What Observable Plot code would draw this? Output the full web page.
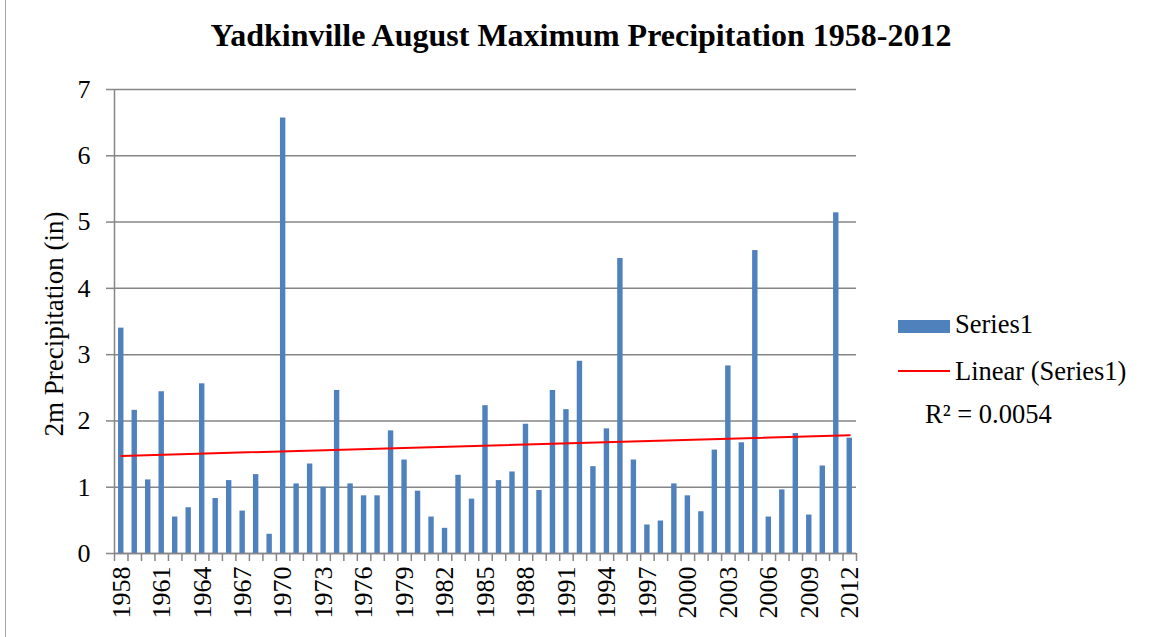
<!DOCTYPE html>
<html>
<head>
<meta charset="utf-8">
<script src="https://cdn.jsdelivr.net/npm/d3@7"></script>
<script src="https://cdn.jsdelivr.net/npm/@observablehq/plot@0.6"></script>
<style>
  html, body { margin: 0; padding: 0; background: #fff; }
  #wrap { position: relative; width: 1151px; height: 637px; overflow: hidden; font-family: "Liberation Serif", "Times New Roman", serif; color: #000; }
  #chart { position: absolute; left: 0; top: 0; }
  #chart svg, #chart svg text, #chart svg g { font-family: "Liberation Serif", "Times New Roman", serif !important; }
  .abs { position: absolute; white-space: nowrap; line-height: 1.15; }
  #border { position: absolute; left: 5px; top: -2px; width: 1200px; height: 700px; border-left: 1.5px solid #a6a6a6; }
  #title { left: 0; width: 1162px; text-align: center; top: 17px; font-size: 32px; font-weight: bold; }
  #ylabel { left: 55px; top: 324px; font-size: 27px; transform: translate(-50%, -50%) rotate(-90deg); }
  .leg { font-size: 26.5px; }
</style>
</head>
<body>
<div id="wrap">
  <div id="border"></div>
  <div id="chart"></div>
  <div id="title" class="abs">Yadkinville August Maximum Precipitation 1958-2012</div>
  <div id="ylabel" class="abs">2m Precipitation (in)</div>
  <div class="abs" style="left:898px; top:320px; width:52px; height:13px; background:#4F81BD;"></div>
  <div class="abs leg" style="left:955px; top:309px;">Series1</div>
  <div class="abs" style="left:898px; top:370px; width:52px; height:2px; background:#FF0000;"></div>
  <div class="abs leg" style="left:955px; top:356px;">Linear (Series1)</div>
  <div class="abs leg" style="left:925px; top:399px;">R² = 0.0054</div>
</div>
<script>
const years = d3.range(1958, 2013);
const values = [
  3.40, 2.16, 1.11, 2.44, 0.55, 0.69, 2.56, 0.83, 1.10, 0.64,
  1.19, 0.29, 6.57, 1.05, 1.35, 1.00, 2.46, 1.05, 0.87, 0.87,
  1.85, 1.41, 0.94, 0.55, 0.38, 1.18, 0.82, 2.23, 1.10, 1.23,
  1.95, 0.95, 2.46, 2.17, 2.90, 1.31, 1.88, 4.45, 1.41, 0.43,
  0.49, 1.05, 0.87, 0.63, 1.56, 2.83, 1.67, 4.57, 0.55, 0.96,
  1.81, 0.58, 1.32, 5.14, 1.74
];
const yTicks = [0, 1, 2, 3, 4, 5, 6, 7];
const xLabelYears = years.filter((y, i) => i % 3 === 0);

const data = years.map((year, i) => ({year, value: values[i]}));

// least-squares trend line (Excel "Linear (Series1)")
const mx = d3.mean(data, d => d.year), my = d3.mean(data, d => d.value);
const slope = d3.sum(data, d => (d.year - mx) * (d.value - my)) / d3.sum(data, d => (d.year - mx) ** 2);
const trend = [years[0], years[years.length - 1]].map(x => ({year: x, value: my + slope * (x - mx)}));

const boundaries = years.map(y => y - 0.5).concat([years[years.length - 1] + 0.5]);
const grid = "#868686";
const serif = "'Liberation Serif', 'Times New Roman', serif";

const chart = Plot.plot({
  width: 1151,
  height: 637,
  marginLeft: 114,
  marginRight: 295,
  marginTop: 89,
  marginBottom: 84,
  style: {fontFamily: serif, fontSize: "22px", color: "#000", background: "transparent"},
  x: {type: "linear", domain: [1957.5, 2012.5]},
  y: {domain: [0, 7]},
  marks: [
    Plot.gridY(yTicks, {stroke: grid, strokeOpacity: 1, strokeWidth: 1.5}),
    Plot.rectY(data, {x1: d => d.year - 0.2, x2: d => d.year + 0.2, y: "value", fill: "#4F81BD"}),
    Plot.line(trend, {x: "year", y: "value", stroke: "#FF0000", strokeWidth: 2}),
    Plot.ruleX([1957.5], {stroke: grid, strokeWidth: 1.5}),
    Plot.ruleY([0], {stroke: grid, strokeWidth: 1.5}),
    Plot.axisY({ticks: yTicks, tickSize: 8, tickPadding: 16, stroke: grid, strokeWidth: 1.5, fontSize: 26, fontFamily: serif, label: null, tickFormat: d3.format("d")}),
    Plot.axisX({ticks: boundaries, tickSize: 8, stroke: grid, strokeWidth: 1.5, tickFormat: () => "", label: null}),
    Plot.axisX({ticks: xLabelYears, tickSize: 0, tickPadding: 13, tickRotate: -90, tickFormat: d => String(d), fontSize: 26, fontFamily: serif, label: null})
  ]
});
document.getElementById("chart").appendChild(chart);
</script>
</body>
</html>
